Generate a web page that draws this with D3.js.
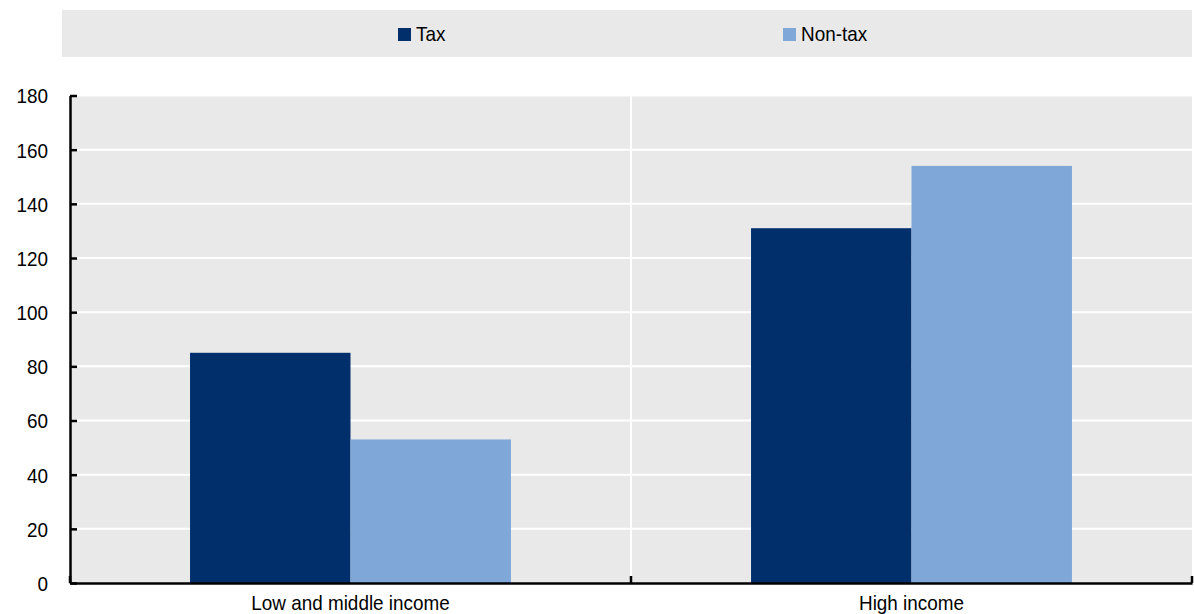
<!DOCTYPE html>
<html><head><meta charset="utf-8">
<script src="https://cdn.jsdelivr.net/npm/d3@7"></script>
<style>
body{margin:0;background:#fff;}
text{font-family:"Liberation Sans",Arial,sans-serif;fill:#000;}
</style></head>
<body><svg id="c" width="1194" height="614"></svg>
<script>
const categories = ["Low and middle income", "High income"];
const seriesNames = ["Tax", "Non-tax"];
const taxValues = [85, 131];
const nonTaxValues = [53, 154];
const yTicks = [0, 20, 40, 60, 80, 100, 120, 140, 160, 180];
const colors = ["#002F6C", "#7FA8D9"];

const SX = 0.9; // narrow text
const svg = d3.select("#c");
const m = {l:70, r:1192, t:95.5, b:583};
const x = d3.scaleBand().domain(categories).range([m.l, m.r]).paddingInner(0).paddingOuter(0);
const x1 = d3.scaleBand().domain(seriesNames).range([0, x.bandwidth()]).paddingInner(0).paddingOuter(0.748);
const y = d3.scaleLinear().domain([0, 180]).range([m.b, m.t]);

// legend
svg.append("rect").attr("x",62).attr("y",10).attr("width",1130).attr("height",47).attr("fill","#E9E9E9");
const legX = [398, 783];
seriesNames.forEach((s,i)=>{
  svg.append("rect").attr("x",legX[i]).attr("y",28).attr("width",13).attr("height",13).attr("fill",colors[i]);
  svg.append("text").attr("x",(legX[i]+18)/SX).attr("y",41.5).attr("font-size",21)
    .attr("transform",`scale(${SX},1)`).text(s);
});

// plot bg
svg.append("rect").attr("x",m.l).attr("y",m.t).attr("width",m.r-m.l).attr("height",m.b-m.t).attr("fill","#E9E9E9");
// gridlines
svg.append("g").selectAll("line").data(yTicks.filter(d=>d>0)).join("line")
  .attr("x1",m.l).attr("x2",m.r).attr("y1",d=>y(d)).attr("y2",d=>y(d))
  .attr("stroke","#fff").attr("stroke-width",2);
// vertical separator
svg.append("line").attr("x1",x(categories[1])).attr("x2",x(categories[1])).attr("y1",m.t).attr("y2",m.b)
  .attr("stroke","#fff").attr("stroke-width",2);

// bars
const data = categories.map((c,i)=>({c, vals:[taxValues[i], nonTaxValues[i]]}));
const g = svg.append("g");
data.forEach(d=>{
  d.vals.forEach((v,j)=>{
    g.append("rect").attr("x",x(d.c)+x1(seriesNames[j])).attr("width",x1.bandwidth())
      .attr("y",y(v)).attr("height",y(0)-y(v)).attr("fill",colors[j]);
  });
});

// y axis
const ya = d3.axisLeft(y).tickValues(yTicks).tickSize(-7).tickPadding(22).tickSizeOuter(0);
const yg = svg.append("g").attr("transform",`translate(${m.l},0)`).call(ya);
yg.select(".domain").attr("stroke","#000").attr("stroke-width",2.5);
yg.selectAll(".tick line").attr("stroke","#000").attr("stroke-width",2.5);
yg.selectAll(".tick text").attr("font-size",21).attr("font-family",null).attr("dy","0.35em")
  .attr("x",-22/SX).attr("transform",`scale(${SX},1)`);

// x axis
const xa = d3.axisBottom(x).tickSize(0).tickPadding(20);
const xg = svg.append("g").attr("transform",`translate(0,${m.b})`).call(xa);
xg.select(".domain").attr("stroke","#000").attr("stroke-width",2.5);
xg.selectAll(".tick text").attr("font-size",21).attr("font-family",null).attr("dy","0.35em")
  .attr("transform",`scale(${SX},1)`);
// boundary ticks
const bounds = [m.l, x(categories[1]), m.r];
xg.selectAll("line.bt").data(bounds).join("line").attr("class","bt")
  .attr("x1",d=>d).attr("x2",d=>d).attr("y1",0).attr("y2",-7)
  .attr("stroke","#000").attr("stroke-width",2.5);
</script></body></html>
